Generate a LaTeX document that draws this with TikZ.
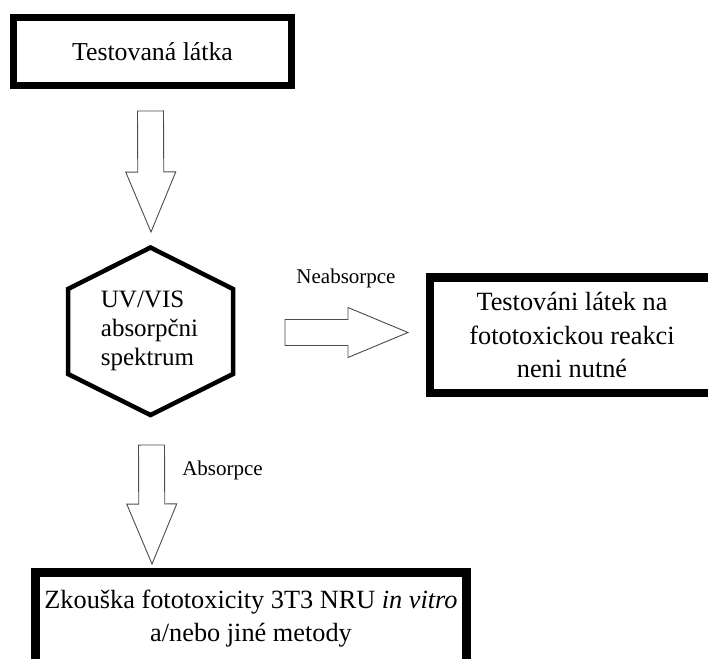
\documentclass[tikz,border=0pt]{standalone}
\usepackage{fontspec}
\setmainfont{Liberation Serif}
\usetikzlibrary{calc,positioning}

\tikzset{
  box/.style={draw, line width=8pt, align=center, inner sep=0pt,
    font=\fontsize{26.3}{33.5}\selectfont},
  hexline/.style={draw, line width=4.5pt, line join=miter},
  lbl/.style={font=\fontsize{21}{24}\selectfont},
  blockarr/.style={draw=black!70, line width=0.9pt, line join=miter,
    to path={
      ($(\tikztostart)!13pt!90:(\tikztotarget)$)
      -- ($(\tikztotarget)!60pt!(\tikztostart)!13pt!90:(\tikztotarget)$)
      -- ($(\tikztotarget)!60pt!(\tikztostart)!25pt!90:(\tikztotarget)$)
      -- (\tikztotarget)
      -- ($(\tikztotarget)!60pt!(\tikztostart)!25pt!-90:(\tikztotarget)$)
      -- ($(\tikztotarget)!60pt!(\tikztostart)!13pt!-90:(\tikztotarget)$)
      -- ($(\tikztostart)!13pt!-90:(\tikztotarget)$) -- cycle}}
}

\begin{document}
\begin{tikzpicture}[x=1pt,y=-1pt]
  \useasboundingbox (0,0) rectangle (708,658);
  \clip (0,0) rectangle (708,658);

  % boxes
  \node[box, line width=7pt, minimum width=278pt, minimum height=68pt,
    font=\fontsize{25.8}{30}\selectfont] (latka) at (152.5,51.5) {Testovaná látka};
  \node[box, line width=8.5pt, minimum width=284pt, minimum height=115.5pt] (nenutne) at (572,335.25)
    {Testováni látek na\\ fototoxickou reakci\\ neni nutné};
  \node[box, line width=9.5pt, minimum width=431pt, minimum height=92pt] (zkouska) at (251,618.5)
    {Zkouška fototoxicity 3T3 NRU \textit{in vitro}\\ a/nebo jiné metody};

  % hexagon
  \node[align=left, inner sep=0pt, font=\fontsize{25}{29}\selectfont] (spektrum) at (149.5,331)
    {UV/VIS\\ absorpčni\\ spektrum};
  \draw[hexline] ($(spektrum)+(1,-83.5)$) -- ($(spektrum)+(83.5,-42)$) -- ($(spektrum)+(83.5,43)$)
    -- ($(spektrum)+(1,84)$) -- ($(spektrum)+(-81.5,43)$) -- ($(spektrum)+(-81.5,-42)$) -- cycle;

  % arrow ends
  \coordinate (a1s) at (150.5,111);
  \coordinate (a1e) at (151,232);
  \coordinate (a2s) at (285,332.5);
  \coordinate (a2e) at (408,332.5);
  \coordinate (a3s) at (151.5,445);
  \coordinate (a3e) at (152,564);

  \draw[blockarr] (a1s) to (a1e);
  \draw[blockarr] (a2s) to (a2e);
  \draw[blockarr] (a3s) to (a3e);

  \node[lbl] (neabs) at (346,278) {Neabsorpce};
  \node[lbl] (abs) at (222.5,470) {Absorpce};
\end{tikzpicture}
\end{document}
